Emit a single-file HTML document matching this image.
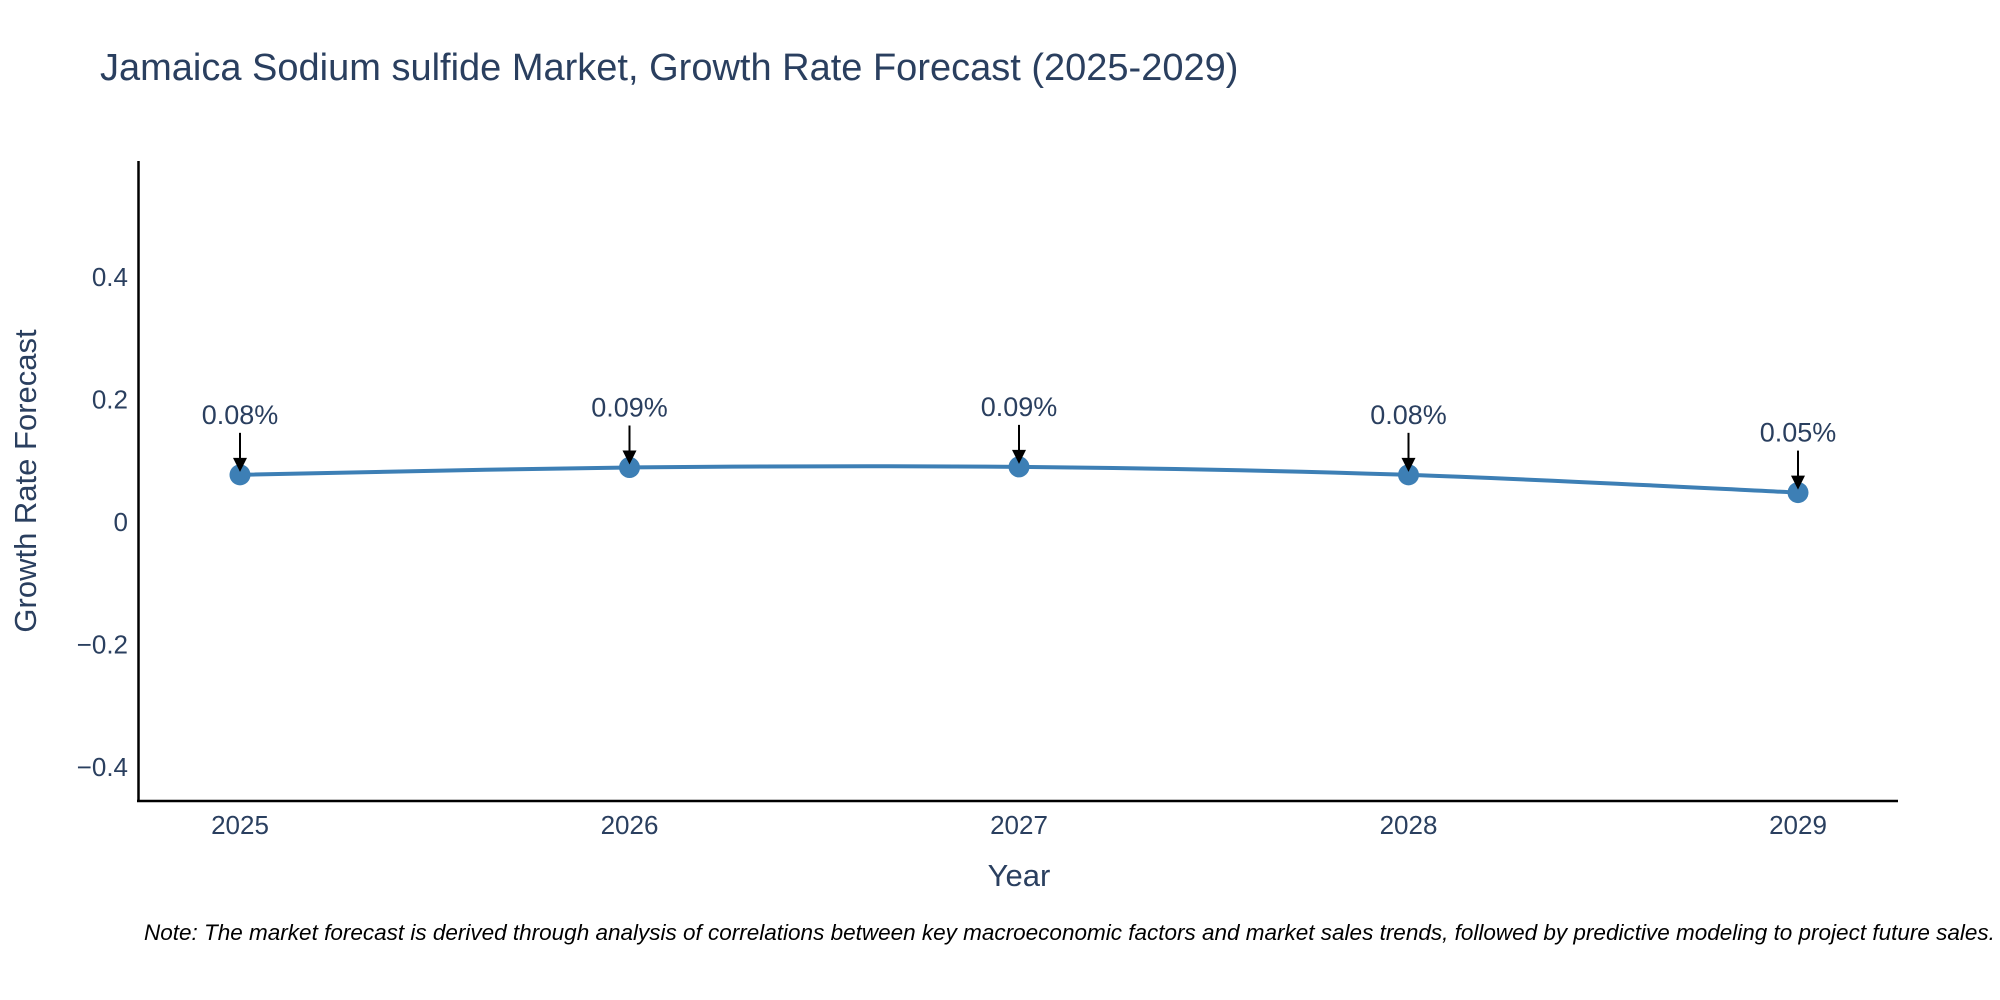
<!DOCTYPE html>
<html><head><meta charset="utf-8"><style>
body{margin:0;background:#fff;}
svg{display:block;font-family:"Liberation Sans",sans-serif;}
</style></head><body>
<svg id="chart" width="2000" height="1000" viewBox="0 0 2000 1000">
<text x="100" y="80" font-size="38" fill="#2a3f5f">Jamaica Sodium sulfide Market, Growth Rate Forecast (2025-2029)</text>
<g id="yticks"></g>
<g id="xticks"></g>
<line x1="138.5" y1="161" x2="138.5" y2="802" stroke="#000" stroke-width="2.5"/>
<line x1="137" y1="801" x2="1898" y2="801" stroke="#000" stroke-width="2.5"/>
<text x="0" y="0" transform="translate(36,481) rotate(-90)" text-anchor="middle" font-size="31" fill="#2a3f5f">Growth Rate Forecast</text>
<text x="1019" y="886" text-anchor="middle" font-size="31" fill="#2a3f5f">Year</text>
<path id="line" fill="none" stroke="#3d7fb5" stroke-width="4"/>
<g id="marks"></g>
<g id="annos"></g>
<text x="144" y="940" font-size="22.5" font-style="italic" fill="#000">Note: The market forecast is derived through analysis of correlations between key macroeconomic factors and market sales trends, followed by predictive modeling to project future sales.</text>
</svg>
<script>
const years = ["2025","2026","2027","2028","2029"];
const values = [0.077, 0.089, 0.090, 0.077, 0.048];
const labels = ["0.08%","0.09%","0.09%","0.08%","0.05%"];
const yTicks = [-0.4,-0.2,0,0.2,0.4];
const yTickLabels = ["\u22120.4","\u22120.2","0","0.2","0.4"];
const NS="http://www.w3.org/2000/svg";
function xs(i){return 240+i*389.5;}
function ys(v){return 522-v*612.5;}
function mk(tag,attrs,parent,txt){const e=document.createElementNS(NS,tag);for(const k in attrs)e.setAttribute(k,attrs[k]);if(txt!=null)e.textContent=txt;parent.appendChild(e);return e;}
const yt=document.getElementById('yticks');
yTicks.forEach((v,i)=>{const t=mk('text',{x:128,y:ys(v)+9,'text-anchor':'end','font-size':26,fill:'#2a3f5f'},yt,yTickLabels[i]);

});
const xt=document.getElementById('xticks');
years.forEach((y,i)=>{const t=mk('text',{x:xs(i),y:834,'text-anchor':'middle','font-size':26,fill:'#2a3f5f'},xt,y);

});
const P=values.map((v,i)=>[xs(i),ys(v)]);
let d=`M${P[0][0]},${P[0][1]}`;
for(let i=0;i<P.length-1;i++){const p0=P[Math.max(i-1,0)],p1=P[i],p2=P[i+1],p3=P[Math.min(i+2,P.length-1)];const k=6;
d+=` C${p1[0]+(p2[0]-p0[0])/k},${p1[1]+(p2[1]-p0[1])/k} ${p2[0]-(p3[0]-p1[0])/k},${p2[1]-(p3[1]-p1[1])/k} ${p2[0]},${p2[1]}`;}
document.getElementById('line').setAttribute('d',d);
const mg=document.getElementById('marks'),ag=document.getElementById('annos');
P.forEach((p,i)=>{const c=mk('circle',{cx:p[0],cy:p[1],r:10.5,fill:'#3d7fb5'},mg);


const g=mk('g',{},ag);


mk('line',{x1:p[0],y1:p[1]-42,x2:p[0],y2:p[1]-14,stroke:'#000','stroke-width':2},g);
mk('polygon',{points:`${p[0]-7},${p[1]-17} ${p[0]+7},${p[1]-17} ${p[0]},${p[1]-3}`,fill:'#000'},g);
mk('text',{x:p[0],y:p[1]-51,'text-anchor':'middle','font-size':27,fill:'#2a3f5f'},g,labels[i]);});
</script>
</body></html>
